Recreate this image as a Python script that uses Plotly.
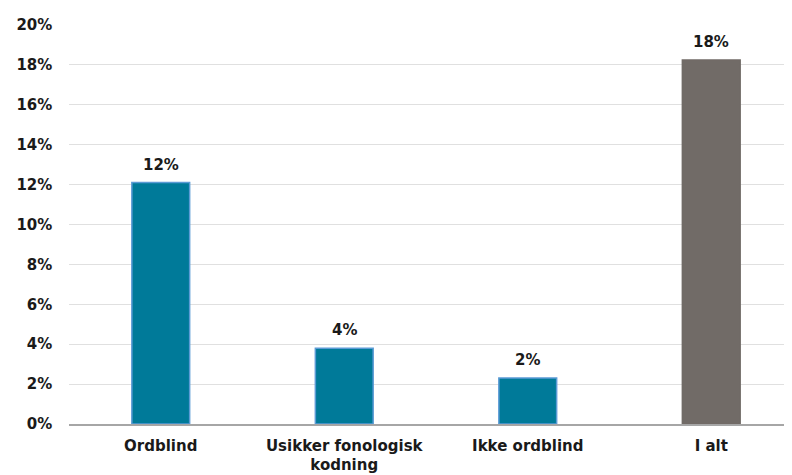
import plotly.graph_objects as go

categories = ["Ordblind", "Usikker fonologisk<br>kodning", "Ikke ordblind", "I alt"]
values = [0.121, 0.038, 0.023, 0.1825]
labels = ["12%", "4%", "2%", "18%"]
colors = ["#007A99", "#007A99", "#007A99", "#716B67"]
outline = ["#5B9BD5", "#5B9BD5", "#5B9BD5", "#716B67"]

fig = go.Figure(go.Bar(
    x=categories, y=values, width=0.315,
    marker=dict(color=colors, line=dict(color=outline, width=1.5)),
))

for c, v, t in zip(categories, values, labels):
    fig.add_annotation(
        x=c, y=v, text=t, showarrow=False, yanchor="bottom", yshift=7,
        font=dict(family="DejaVu Sans", size=15, color="#1a1a1a", weight="bold"),
    )

fig.update_layout(
    width=792, height=475,
    margin=dict(l=59, r=8, t=15, b=59),
    plot_bgcolor="white", paper_bgcolor="white",
    showlegend=False,
    font=dict(family="DejaVu Sans", color="#1a1a1a"),
    xaxis=dict(
        range=[-0.5, 3.44], showgrid=False,
        showline=True, linecolor="#A6A6A6", linewidth=1.5,
        tickfont=dict(size=15, family="DejaVu Sans", weight=600),
        ticks="", ticklabelstandoff=7,
    ),
    yaxis=dict(
        range=[0, 0.2], dtick=0.02, tickformat=".0%",
        showgrid=True, gridcolor="#E0E0E0", gridwidth=1,
        zeroline=False, showline=False, ticks="", ticklen=0,
        tickfont=dict(size=15, family="DejaVu Sans", weight="bold"),
        ticksuffix="   ",
    ),
)

fig.write_html("out.html")
